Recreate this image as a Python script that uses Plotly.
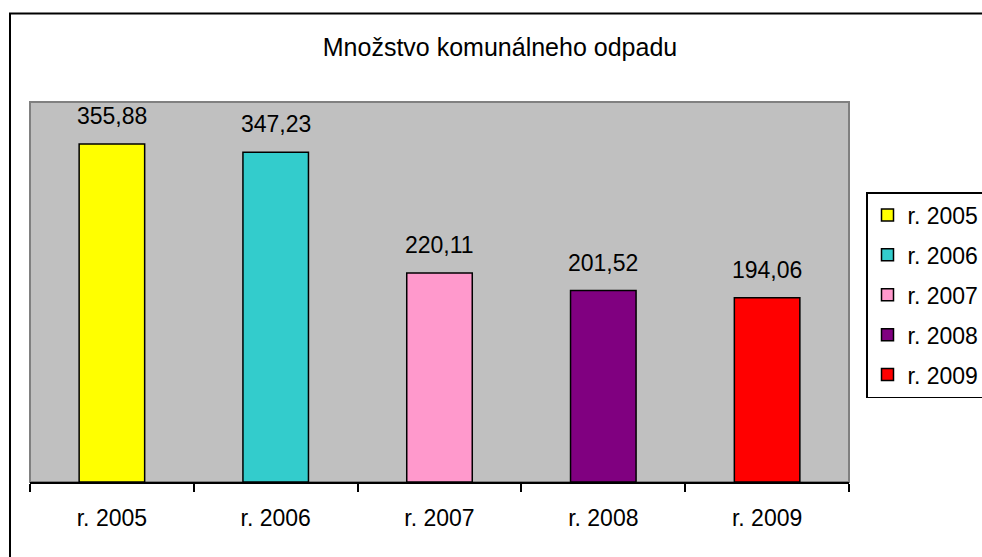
import plotly.graph_objects as go

categories = ["r. 2005", "r. 2006", "r. 2007", "r. 2008", "r. 2009"]
values = [355.88, 347.23, 220.11, 201.52, 194.06]
colors = ["#FFFF00", "#33CCCC", "#FF99CC", "#800080", "#FF0000"]
title_text = "Množstvo komunálneho odpadu"

FONT = "Liberation Sans, Arial, sans-serif"

W, H = 982, 557
PL, PR, PT, PB = 30, 849, 102, 482  # plot area in px

fig = go.Figure()
for i, (c, v, col) in enumerate(zip(categories, values, colors)):
    fig.add_trace(go.Bar(
        x=[c], y=[v], name=c, width=0.4,
        legendgroup=f"g{i}",
        marker=dict(color=col, line=dict(color="black", width=1.5)),
        hoverinfo="x+y",
    ))
    fig.add_annotation(
        x=c, y=v, xref="x", yref="y",
        text=f"{v:.2f}".replace(".", ","),
        showarrow=False, yanchor="middle", yshift=28,
        font=dict(family=FONT, size=23, color="black"),
    )

pw, ph = PR - PL, PB - PT
fig.update_layout(
    width=W, height=H,
    autosize=False,
    barmode="overlay",
    paper_bgcolor="white",
    plot_bgcolor="#C0C0C0",
    margin=dict(l=PL, r=W - PR, t=PT, b=H - PB),
    font=dict(family=FONT, size=23, color="black"),
    title=dict(text=title_text, x=500 / W, y=1 - 47 / H, xref="container", yref="container",
               xanchor="center", yanchor="middle",
               font=dict(family=FONT, size=25, color="black")),
    showlegend=True,
    legend=dict(
        xref="container", yref="container",
        x=866 / W, y=1 - 192 / H, xanchor="left", yanchor="top",
        bgcolor="white", bordercolor="black", borderwidth=1.5,
        font=dict(family=FONT, size=23, color="black"),
        tracegroupgap=7,
        traceorder="grouped",
    ),
    xaxis=dict(
        type="category",
        categoryorder="array", categoryarray=categories,
        showline=True, linecolor="black", linewidth=2,
        ticks="outside", tickson="boundaries", ticklen=8, tickwidth=1.5, tickcolor="black",
        ticklabelstandoff=14,
        showgrid=False, zeroline=False,
        tickfont=dict(family=FONT, size=23, color="black"),
    ),
    yaxis=dict(
        range=[0, 400], visible=False, showgrid=False, zeroline=False,
    ),
    shapes=[
        # plot-area border (gray)
        dict(type="rect", xref="paper", yref="paper", x0=0, x1=1, y0=0, y1=1,
             line=dict(color="#808080", width=2), fillcolor="rgba(0,0,0,0)", layer="below"),
        # outer chart border
        dict(type="rect", xref="paper", yref="paper",
             x0=(10 - PL) / pw, x1=1.3, y0=-0.4, y1=(PB - 13.5) / ph,
             line=dict(color="black", width=2), fillcolor="rgba(0,0,0,0)", layer="below"),
    ],
)

fig.write_html(
    "out.html",
    config={"displayModeBar": False},
    post_script="document.body.style.margin='0';document.body.style.overflow='hidden';",
)
